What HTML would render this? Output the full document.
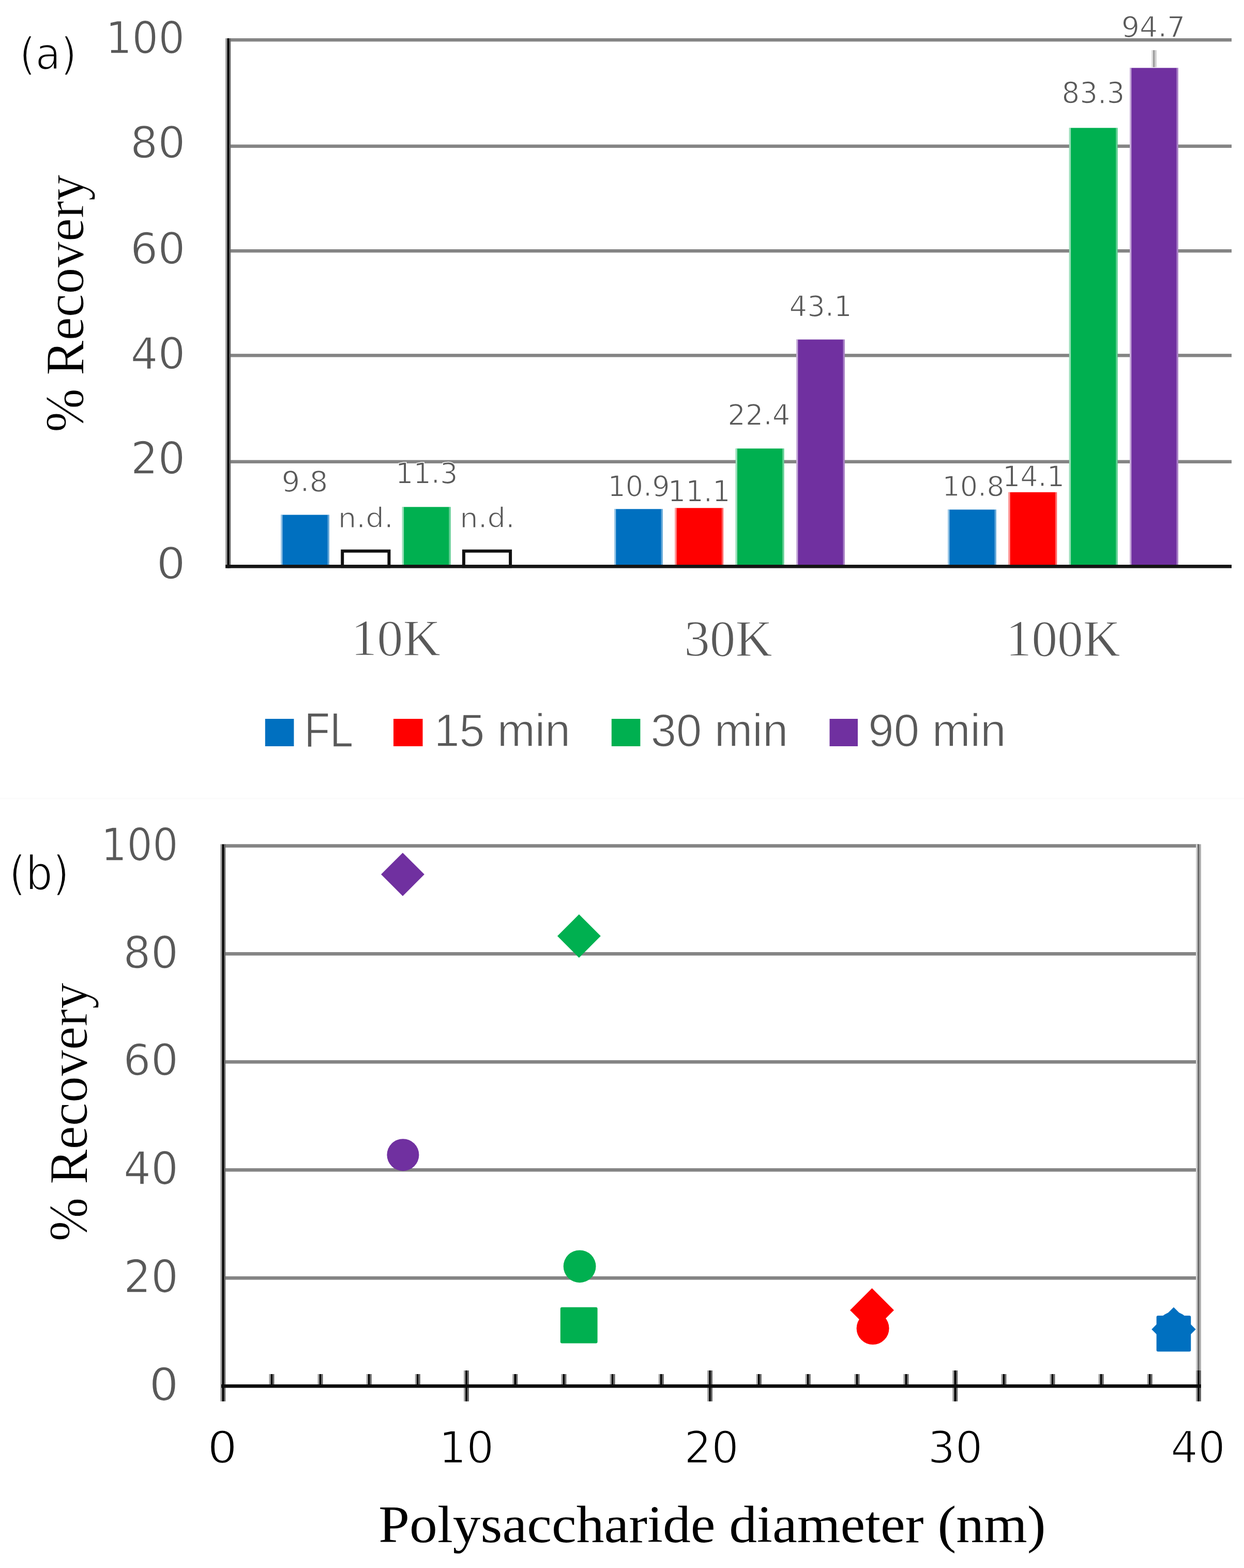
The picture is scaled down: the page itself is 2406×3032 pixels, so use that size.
<!DOCTYPE html>
<html><head><meta charset="utf-8"><title>Recovery chart</title>
<style>html,body{margin:0;padding:0;background:#fff;} svg{display:block;}</style></head>
<body><svg width="2406" height="3032" viewBox="0 0 2406 3032">
<rect width="2406" height="3032" fill="#fff"/>
<rect x="443" y="889.6" width="1939" height="6.4" fill="#848484"/>
<rect x="443" y="684.1" width="1939" height="6.4" fill="#848484"/>
<rect x="443" y="482.0" width="1939" height="6.4" fill="#848484"/>
<rect x="443" y="279.5" width="1939" height="6.4" fill="#848484"/>
<rect x="443" y="74.0" width="1939" height="6.4" fill="#848484"/>
<rect x="543.1" y="995.5" width="93.8" height="99.8" fill="#0070C0"/>
<rect x="543.1" y="995.5" width="3.3" height="99.8" fill="#fff" fill-opacity="0.6"/>
<rect x="633.6" y="995.5" width="3.3" height="99.8" fill="#fff" fill-opacity="0.4"/>
<rect x="662.2" y="1065.6" width="90.2" height="29.7" fill="#fff" stroke="#111" stroke-width="6"/>
<rect x="777.8" y="980.3" width="93.8" height="115.0" fill="#00B050"/>
<rect x="777.8" y="980.3" width="3.3" height="115.0" fill="#fff" fill-opacity="0.6"/>
<rect x="868.2" y="980.3" width="3.3" height="115.0" fill="#fff" fill-opacity="0.4"/>
<rect x="896.9" y="1065.6" width="90.2" height="29.7" fill="#fff" stroke="#111" stroke-width="6"/>
<rect x="1188.0" y="984.3" width="93.8" height="111.0" fill="#0070C0"/>
<rect x="1188.0" y="984.3" width="3.3" height="111.0" fill="#fff" fill-opacity="0.6"/>
<rect x="1278.5" y="984.3" width="3.3" height="111.0" fill="#fff" fill-opacity="0.4"/>
<rect x="1305.3" y="982.3" width="93.8" height="113.0" fill="#FF0000"/>
<rect x="1305.3" y="982.3" width="3.3" height="113.0" fill="#fff" fill-opacity="0.6"/>
<rect x="1395.8" y="982.3" width="3.3" height="113.0" fill="#fff" fill-opacity="0.4"/>
<rect x="1422.7" y="867.3" width="93.8" height="228.0" fill="#00B050"/>
<rect x="1422.7" y="867.3" width="3.3" height="228.0" fill="#fff" fill-opacity="0.6"/>
<rect x="1513.2" y="867.3" width="3.3" height="228.0" fill="#fff" fill-opacity="0.4"/>
<rect x="1540.0" y="656.5" width="93.8" height="438.8" fill="#7030A0"/>
<rect x="1540.0" y="656.5" width="3.3" height="438.8" fill="#fff" fill-opacity="0.6"/>
<rect x="1630.5" y="656.5" width="3.3" height="438.8" fill="#fff" fill-opacity="0.4"/>
<rect x="1833.1" y="985.4" width="93.8" height="109.9" fill="#0070C0"/>
<rect x="1833.1" y="985.4" width="3.3" height="109.9" fill="#fff" fill-opacity="0.6"/>
<rect x="1923.6" y="985.4" width="3.3" height="109.9" fill="#fff" fill-opacity="0.4"/>
<rect x="1950.4" y="951.8" width="93.8" height="143.5" fill="#FF0000"/>
<rect x="1950.4" y="951.8" width="3.3" height="143.5" fill="#fff" fill-opacity="0.6"/>
<rect x="2040.9" y="951.8" width="3.3" height="143.5" fill="#fff" fill-opacity="0.4"/>
<rect x="2067.8" y="247.3" width="93.8" height="848.0" fill="#00B050"/>
<rect x="2067.8" y="247.3" width="3.3" height="848.0" fill="#fff" fill-opacity="0.6"/>
<rect x="2158.2" y="247.3" width="3.3" height="848.0" fill="#fff" fill-opacity="0.4"/>
<rect x="2185.0" y="131.3" width="93.8" height="964.0" fill="#7030A0"/>
<rect x="2185.0" y="131.3" width="3.3" height="964.0" fill="#fff" fill-opacity="0.6"/>
<rect x="2275.5" y="131.3" width="3.3" height="964.0" fill="#fff" fill-opacity="0.4"/>
<rect x="2227" y="97" width="3.2" height="33" fill="#dedede"/><rect x="2230.2" y="97" width="3.2" height="33" fill="#959595"/><rect x="2233.4" y="97" width="3.4" height="33" fill="#cccccc"/>
<rect x="436" y="74" width="3.4" height="1024.6" fill="#a0a0a0"/><rect x="439.4" y="74" width="3.6" height="1024.6" fill="#000"/><rect x="443" y="74" width="3.2" height="1024.6" fill="#666"/>
<rect x="436" y="1092" width="1946" height="6.6" fill="#151515"/>
<text x="37.5" y="134.3" font-size="85.39" textLength="111.1" lengthAdjust="spacingAndGlyphs" style='font-family:"DejaVu Sans", "Liberation Sans", sans-serif' fill="#000" stroke="#fff" stroke-width="2.5">(a)</text>
<text x="204.2" y="103.0" font-size="85.03" textLength="153.1" lengthAdjust="spacingAndGlyphs" style='font-family:"DejaVu Sans", "Liberation Sans", sans-serif' fill="#595959" stroke="#fff" stroke-width="1.6">100</text>
<text x="251.9" y="305.0" font-size="83.58" textLength="106.5" lengthAdjust="spacingAndGlyphs" style='font-family:"DejaVu Sans", "Liberation Sans", sans-serif' fill="#595959" stroke="#fff" stroke-width="1.6">80</text>
<text x="251.9" y="510.3" font-size="83.97" textLength="106.5" lengthAdjust="spacingAndGlyphs" style='font-family:"DejaVu Sans", "Liberation Sans", sans-serif' fill="#595959" stroke="#fff" stroke-width="1.6">60</text>
<text x="252.5" y="712.9" font-size="84.11" textLength="105.9" lengthAdjust="spacingAndGlyphs" style='font-family:"DejaVu Sans", "Liberation Sans", sans-serif' fill="#595959" stroke="#fff" stroke-width="1.6">40</text>
<text x="252.7" y="915.5" font-size="85.56" textLength="105.7" lengthAdjust="spacingAndGlyphs" style='font-family:"DejaVu Sans", "Liberation Sans", sans-serif' fill="#595959" stroke="#fff" stroke-width="1.6">20</text>
<text x="302.5" y="1119.1" font-size="83.71" textLength="56.2" lengthAdjust="spacingAndGlyphs" style='font-family:"DejaVu Sans", "Liberation Sans", sans-serif' fill="#595959" stroke="#fff" stroke-width="1.6">0</text>
<text transform="translate(161.1,835.7) rotate(-90)" x="0" y="0" font-size="106.87" textLength="498.1" lengthAdjust="spacingAndGlyphs" style='font-family:"Liberation Serif", serif' fill="#000" stroke="#fff" stroke-width="1.0">% Recovery</text>
<text x="544.6" y="949.9" font-size="55.36" textLength="89.7" lengthAdjust="spacingAndGlyphs" style='font-family:"DejaVu Sans", "Liberation Sans", sans-serif' fill="#595959" stroke="#fff" stroke-width="1.4">9.8</text>
<text x="653.7" y="1019.9" font-size="53.81" textLength="107.1" lengthAdjust="spacingAndGlyphs" style='font-family:"DejaVu Sans", "Liberation Sans", sans-serif' fill="#595959" stroke="#fff" stroke-width="1.4">n.d.</text>
<text x="765.0" y="934.1" font-size="55.36" textLength="120.5" lengthAdjust="spacingAndGlyphs" style='font-family:"DejaVu Sans", "Liberation Sans", sans-serif' fill="#595959" stroke="#fff" stroke-width="1.4">11.3</text>
<text x="889.3" y="1019.9" font-size="53.81" textLength="106.6" lengthAdjust="spacingAndGlyphs" style='font-family:"DejaVu Sans", "Liberation Sans", sans-serif' fill="#595959" stroke="#fff" stroke-width="1.4">n.d.</text>
<text x="1175.4" y="958.9" font-size="54.83" textLength="120.2" lengthAdjust="spacingAndGlyphs" style='font-family:"DejaVu Sans", "Liberation Sans", sans-serif' fill="#595959" stroke="#fff" stroke-width="1.4">10.9</text>
<text x="1291.8" y="970.2" font-size="57.40" textLength="120.8" lengthAdjust="spacingAndGlyphs" style='font-family:"DejaVu Sans", "Liberation Sans", sans-serif' fill="#595959" stroke="#fff" stroke-width="1.4">11.1</text>
<text x="1407.2" y="820.7" font-size="55.95" textLength="121.1" lengthAdjust="spacingAndGlyphs" style='font-family:"DejaVu Sans", "Liberation Sans", sans-serif' fill="#595959" stroke="#fff" stroke-width="1.4">22.4</text>
<text x="1526.6" y="610.9" font-size="54.83" textLength="121.1" lengthAdjust="spacingAndGlyphs" style='font-family:"DejaVu Sans", "Liberation Sans", sans-serif' fill="#595959" stroke="#fff" stroke-width="1.4">43.1</text>
<text x="1822.2" y="958.6" font-size="54.04" textLength="120.6" lengthAdjust="spacingAndGlyphs" style='font-family:"DejaVu Sans", "Liberation Sans", sans-serif' fill="#595959" stroke="#fff" stroke-width="1.4">10.8</text>
<text x="1938.9" y="940.1" font-size="55.89" textLength="120.2" lengthAdjust="spacingAndGlyphs" style='font-family:"DejaVu Sans", "Liberation Sans", sans-serif' fill="#595959" stroke="#fff" stroke-width="1.4">14.1</text>
<text x="2053.5" y="199.9" font-size="56.16" textLength="121.7" lengthAdjust="spacingAndGlyphs" style='font-family:"DejaVu Sans", "Liberation Sans", sans-serif' fill="#595959" stroke="#fff" stroke-width="1.4">83.3</text>
<text x="2168.7" y="70.9" font-size="54.83" textLength="123.8" lengthAdjust="spacingAndGlyphs" style='font-family:"DejaVu Sans", "Liberation Sans", sans-serif' fill="#595959" stroke="#fff" stroke-width="1.4">94.7</text>
<text x="679.0" y="1266.7" font-size="99.85" textLength="173.0" lengthAdjust="spacingAndGlyphs" style='font-family:"Liberation Serif", serif' fill="#595959" stroke="#fff" stroke-width="1.4">10K</text>
<text x="1323.3" y="1267.7" font-size="100.44" textLength="170.6" lengthAdjust="spacingAndGlyphs" style='font-family:"Liberation Serif", serif' fill="#595959" stroke="#fff" stroke-width="1.4">30K</text>
<text x="1945.3" y="1267.7" font-size="100.44" textLength="221.6" lengthAdjust="spacingAndGlyphs" style='font-family:"Liberation Serif", serif' fill="#595959" stroke="#fff" stroke-width="1.4">100K</text>
<rect x="512.8" y="1390" width="55.6" height="53" fill="#0070C0"/>
<rect x="761" y="1390" width="56.5" height="53" fill="#FF0000"/>
<rect x="1182.8" y="1390" width="55.6" height="53" fill="#00B050"/>
<rect x="1604.5" y="1390" width="54.5" height="53" fill="#7030A0"/>
<text x="588.5" y="1444.3" font-size="94.64" textLength="94.8" lengthAdjust="spacingAndGlyphs" style='font-family:"Liberation Sans", sans-serif' fill="#595959" stroke="#fff" stroke-width="1.4">FL</text>
<text x="839.7" y="1443.4" font-size="88.84" textLength="263.4" lengthAdjust="spacingAndGlyphs" style='font-family:"Liberation Sans", sans-serif' fill="#595959" stroke="#fff" stroke-width="1.4">15 min</text>
<text x="1258.8" y="1443.4" font-size="88.84" textLength="265.4" lengthAdjust="spacingAndGlyphs" style='font-family:"Liberation Sans", sans-serif' fill="#595959" stroke="#fff" stroke-width="1.4">30 min</text>
<text x="1679.3" y="1443.4" font-size="88.84" textLength="266.3" lengthAdjust="spacingAndGlyphs" style='font-family:"Liberation Sans", sans-serif' fill="#595959" stroke="#fff" stroke-width="1.4">90 min</text>
<rect x="0" y="1542.5" width="2406" height="3" fill="#fbfbfb"/>
<rect x="434" y="2468.0" width="1884" height="6.6" fill="#848484"/>
<rect x="434" y="2259.0" width="1884" height="6.6" fill="#848484"/>
<rect x="434" y="2050.1" width="1884" height="6.6" fill="#848484"/>
<rect x="434" y="1841.1" width="1884" height="6.6" fill="#848484"/>
<rect x="434" y="1632.3" width="1884" height="6.6" fill="#848484"/>
<rect x="2313.0" y="1632.4" width="3.2" height="1018.6" fill="#d0d0d0"/><rect x="2316.2" y="1632.4" width="3.6" height="1018.6" fill="#686868"/><rect x="2319.8" y="1632.4" width="3.2" height="1018.6" fill="#b0b0b0"/>
<rect x="426.2" y="1632.4" width="3.2" height="1077.4" fill="#a0a0a0"/><rect x="429.4" y="1632.4" width="3.6" height="1077.4" fill="#000"/><rect x="433.0" y="1632.4" width="3.2" height="1077.4" fill="#666"/>
<rect x="897.0" y="2650" width="3.2" height="59.8" fill="#a0a0a0"/><rect x="900.2" y="2650" width="3.6" height="59.8" fill="#000"/><rect x="903.8" y="2650" width="3.2" height="59.8" fill="#666"/>
<rect x="1368.0" y="2650" width="3.2" height="59.8" fill="#a0a0a0"/><rect x="1371.2" y="2650" width="3.6" height="59.8" fill="#000"/><rect x="1374.8" y="2650" width="3.2" height="59.8" fill="#666"/>
<rect x="1842.2" y="2650" width="3.2" height="59.8" fill="#a0a0a0"/><rect x="1845.4" y="2650" width="3.6" height="59.8" fill="#000"/><rect x="1849.0" y="2650" width="3.2" height="59.8" fill="#666"/>
<rect x="2313.0" y="2650" width="3.2" height="59.8" fill="#a0a0a0"/><rect x="2316.2" y="2650" width="3.6" height="59.8" fill="#000"/><rect x="2319.8" y="2650" width="3.2" height="59.8" fill="#666"/>
<rect x="520.4" y="2657" width="3.2" height="21.0" fill="#a0a0a0"/><rect x="523.6" y="2657" width="3.6" height="21.0" fill="#000"/><rect x="527.2" y="2657" width="3.2" height="21.0" fill="#666"/>
<rect x="614.5" y="2657" width="3.2" height="21.0" fill="#a0a0a0"/><rect x="617.7" y="2657" width="3.6" height="21.0" fill="#000"/><rect x="621.3" y="2657" width="3.2" height="21.0" fill="#666"/>
<rect x="708.7" y="2657" width="3.2" height="21.0" fill="#a0a0a0"/><rect x="711.9" y="2657" width="3.6" height="21.0" fill="#000"/><rect x="715.5" y="2657" width="3.2" height="21.0" fill="#666"/>
<rect x="802.8" y="2657" width="3.2" height="21.0" fill="#a0a0a0"/><rect x="806.0" y="2657" width="3.6" height="21.0" fill="#000"/><rect x="809.6" y="2657" width="3.2" height="21.0" fill="#666"/>
<rect x="991.2" y="2657" width="3.2" height="21.0" fill="#a0a0a0"/><rect x="994.4" y="2657" width="3.6" height="21.0" fill="#000"/><rect x="998.0" y="2657" width="3.2" height="21.0" fill="#666"/>
<rect x="1085.4" y="2657" width="3.2" height="21.0" fill="#a0a0a0"/><rect x="1088.6" y="2657" width="3.6" height="21.0" fill="#000"/><rect x="1092.2" y="2657" width="3.2" height="21.0" fill="#666"/>
<rect x="1179.6" y="2657" width="3.2" height="21.0" fill="#a0a0a0"/><rect x="1182.8" y="2657" width="3.6" height="21.0" fill="#000"/><rect x="1186.4" y="2657" width="3.2" height="21.0" fill="#666"/>
<rect x="1273.8" y="2657" width="3.2" height="21.0" fill="#a0a0a0"/><rect x="1277.0" y="2657" width="3.6" height="21.0" fill="#000"/><rect x="1280.6" y="2657" width="3.2" height="21.0" fill="#666"/>
<rect x="1462.8" y="2657" width="3.2" height="21.0" fill="#a0a0a0"/><rect x="1466.0" y="2657" width="3.6" height="21.0" fill="#000"/><rect x="1469.6" y="2657" width="3.2" height="21.0" fill="#666"/>
<rect x="1557.7" y="2657" width="3.2" height="21.0" fill="#a0a0a0"/><rect x="1560.9" y="2657" width="3.6" height="21.0" fill="#000"/><rect x="1564.5" y="2657" width="3.2" height="21.0" fill="#666"/>
<rect x="1652.5" y="2657" width="3.2" height="21.0" fill="#a0a0a0"/><rect x="1655.7" y="2657" width="3.6" height="21.0" fill="#000"/><rect x="1659.3" y="2657" width="3.2" height="21.0" fill="#666"/>
<rect x="1747.4" y="2657" width="3.2" height="21.0" fill="#a0a0a0"/><rect x="1750.6" y="2657" width="3.6" height="21.0" fill="#000"/><rect x="1754.2" y="2657" width="3.2" height="21.0" fill="#666"/>
<rect x="1936.4" y="2657" width="3.2" height="21.0" fill="#a0a0a0"/><rect x="1939.6" y="2657" width="3.6" height="21.0" fill="#000"/><rect x="1943.2" y="2657" width="3.2" height="21.0" fill="#666"/>
<rect x="2030.5" y="2657" width="3.2" height="21.0" fill="#a0a0a0"/><rect x="2033.7" y="2657" width="3.6" height="21.0" fill="#000"/><rect x="2037.3" y="2657" width="3.2" height="21.0" fill="#666"/>
<rect x="2124.7" y="2657" width="3.2" height="21.0" fill="#a0a0a0"/><rect x="2127.9" y="2657" width="3.6" height="21.0" fill="#000"/><rect x="2131.5" y="2657" width="3.2" height="21.0" fill="#666"/>
<rect x="2218.8" y="2657" width="3.2" height="21.0" fill="#a0a0a0"/><rect x="2222.0" y="2657" width="3.6" height="21.0" fill="#000"/><rect x="2225.6" y="2657" width="3.2" height="21.0" fill="#666"/>
<rect x="428" y="2676.9" width="1895" height="6.7" fill="#0d0d0d"/>
<polygon points="778.9,1648.8999999999999 820.8,1690.8 778.9,1732.7 737.0,1690.8" fill="#7030A0"/>
<circle cx="779.4" cy="2233.2" r="31.0" fill="#7030A0"/>
<polygon points="1119.9,1768.1 1161.8000000000002,1810.0 1119.9,1851.9 1078.0,1810.0" fill="#00B050"/>
<circle cx="1121.1" cy="2448.8" r="31.4" fill="#00B050"/>
<rect x="1083.8" y="2527.8" width="71.8" height="69.8" rx="3" fill="#00B050"/>
<circle cx="1688.1" cy="2568.6" r="31.5" fill="#FF0000"/>
<polygon points="1686.5,2490.9 1729.0,2533.4 1686.5,2575.9 1644.0,2533.4" fill="#FF0000"/>
<circle cx="2270.0" cy="2568.0" r="31.5" fill="#0070C0"/>
<polygon points="2270.0,2527.7000000000003 2312.7,2570.4 2270.0,2613.1 2227.3,2570.4" fill="#0070C0"/>
<rect x="2236.7" y="2544.0" width="66.6" height="69.6" rx="3" fill="#0070C0"/>
<text x="17.4" y="1719.6" font-size="90.56" textLength="116.8" lengthAdjust="spacingAndGlyphs" style='font-family:"DejaVu Sans", "Liberation Sans", sans-serif' fill="#000" stroke="#fff" stroke-width="2.5">(b)</text>
<text x="195.6" y="1663.5" font-size="86.89" textLength="149.2" lengthAdjust="spacingAndGlyphs" style='font-family:"DejaVu Sans", "Liberation Sans", sans-serif' fill="#595959" stroke="#fff" stroke-width="1.6">100</text>
<text x="238.3" y="1871.5" font-size="85.56" textLength="106.7" lengthAdjust="spacingAndGlyphs" style='font-family:"DejaVu Sans", "Liberation Sans", sans-serif' fill="#595959" stroke="#fff" stroke-width="1.6">80</text>
<text x="238.3" y="2078.6" font-size="82.91" textLength="106.7" lengthAdjust="spacingAndGlyphs" style='font-family:"DejaVu Sans", "Liberation Sans", sans-serif' fill="#595959" stroke="#fff" stroke-width="1.6">60</text>
<text x="239.0" y="2290.2" font-size="86.89" textLength="106.0" lengthAdjust="spacingAndGlyphs" style='font-family:"DejaVu Sans", "Liberation Sans", sans-serif' fill="#595959" stroke="#fff" stroke-width="1.6">40</text>
<text x="238.9" y="2499.0" font-size="86.89" textLength="106.1" lengthAdjust="spacingAndGlyphs" style='font-family:"DejaVu Sans", "Liberation Sans", sans-serif' fill="#595959" stroke="#fff" stroke-width="1.6">20</text>
<text x="288.4" y="2707.5" font-size="86.89" textLength="56.9" lengthAdjust="spacingAndGlyphs" style='font-family:"DejaVu Sans", "Liberation Sans", sans-serif' fill="#595959" stroke="#fff" stroke-width="1.6">0</text>
<text transform="translate(168.0,2400.6) rotate(-90)" x="0" y="0" font-size="106.87" textLength="500.5" lengthAdjust="spacingAndGlyphs" style='font-family:"Liberation Serif", serif' fill="#000" stroke="#fff" stroke-width="1.0">% Recovery</text>
<text x="400.9" y="2829.3" font-size="86.23" textLength="58.1" lengthAdjust="spacingAndGlyphs" style='font-family:"DejaVu Sans", "Liberation Sans", sans-serif' fill="#000" stroke="#fff" stroke-width="2.4">0</text>
<text x="848.5" y="2829.3" font-size="86.23" textLength="107.1" lengthAdjust="spacingAndGlyphs" style='font-family:"DejaVu Sans", "Liberation Sans", sans-serif' fill="#000" stroke="#fff" stroke-width="2.4">10</text>
<text x="1322.9" y="2829.3" font-size="86.23" textLength="106.0" lengthAdjust="spacingAndGlyphs" style='font-family:"DejaVu Sans", "Liberation Sans", sans-serif' fill="#000" stroke="#fff" stroke-width="2.4">20</text>
<text x="1794.3" y="2829.3" font-size="86.23" textLength="106.4" lengthAdjust="spacingAndGlyphs" style='font-family:"DejaVu Sans", "Liberation Sans", sans-serif' fill="#000" stroke="#fff" stroke-width="2.4">30</text>
<text x="2263.9" y="2829.3" font-size="86.23" textLength="106.0" lengthAdjust="spacingAndGlyphs" style='font-family:"DejaVu Sans", "Liberation Sans", sans-serif' fill="#000" stroke="#fff" stroke-width="2.4">40</text>
<text x="732.3" y="2982.0" font-size="101.53" textLength="1290.3" lengthAdjust="spacingAndGlyphs" style='font-family:"Liberation Serif", serif' fill="#000">Polysaccharide diameter (nm)</text>
</svg></body></html>
